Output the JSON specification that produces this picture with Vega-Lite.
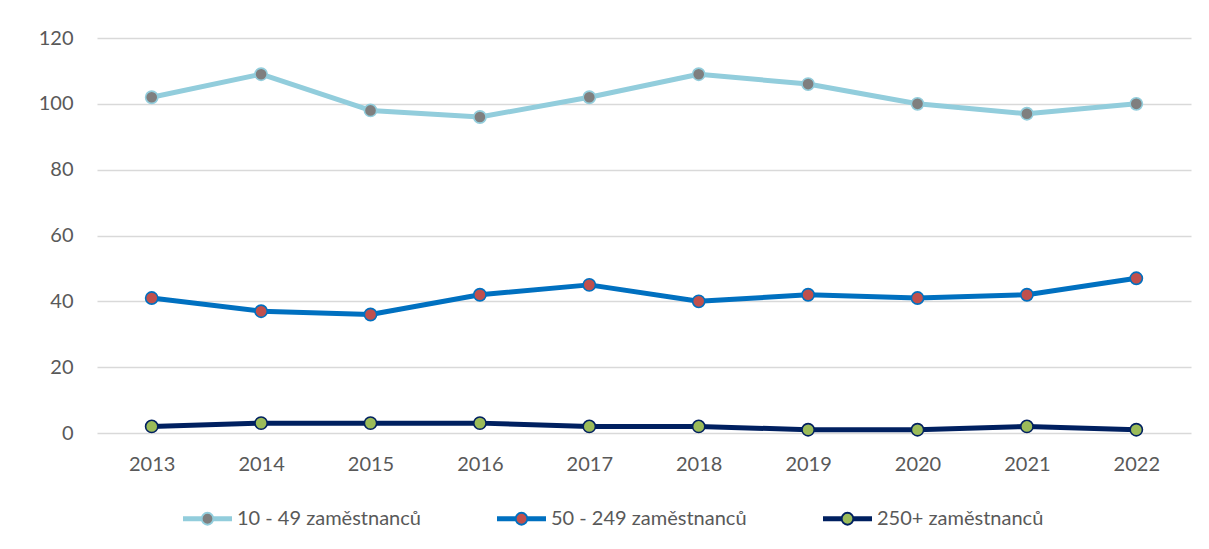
{
  "$schema": "https://vega.github.io/schema/vega-lite/v6.json",
  "width": 1094,
  "height": 395,
  "autosize": {"type": "none"},
  "padding": {"left": 97, "top": 38, "right": 18, "bottom": 116},
  "background": "white",
  "data": {
    "values": [
      {"year": "2013", "series": "10 - 49 zaměstnanců", "value": 102},
      {"year": "2014", "series": "10 - 49 zaměstnanců", "value": 109},
      {"year": "2015", "series": "10 - 49 zaměstnanců", "value": 98},
      {"year": "2016", "series": "10 - 49 zaměstnanců", "value": 96},
      {"year": "2017", "series": "10 - 49 zaměstnanců", "value": 102},
      {"year": "2018", "series": "10 - 49 zaměstnanců", "value": 109},
      {"year": "2019", "series": "10 - 49 zaměstnanců", "value": 106},
      {"year": "2020", "series": "10 - 49 zaměstnanců", "value": 100},
      {"year": "2021", "series": "10 - 49 zaměstnanců", "value": 97},
      {"year": "2022", "series": "10 - 49 zaměstnanců", "value": 100},
      {"year": "2013", "series": "50 - 249 zaměstnanců", "value": 41},
      {"year": "2014", "series": "50 - 249 zaměstnanců", "value": 37},
      {"year": "2015", "series": "50 - 249 zaměstnanců", "value": 36},
      {"year": "2016", "series": "50 - 249 zaměstnanců", "value": 42},
      {"year": "2017", "series": "50 - 249 zaměstnanců", "value": 45},
      {"year": "2018", "series": "50 - 249 zaměstnanců", "value": 40},
      {"year": "2019", "series": "50 - 249 zaměstnanců", "value": 42},
      {"year": "2020", "series": "50 - 249 zaměstnanců", "value": 41},
      {"year": "2021", "series": "50 - 249 zaměstnanců", "value": 42},
      {"year": "2022", "series": "50 - 249 zaměstnanců", "value": 47},
      {"year": "2013", "series": "250+ zaměstnanců", "value": 2},
      {"year": "2014", "series": "250+ zaměstnanců", "value": 3},
      {"year": "2015", "series": "250+ zaměstnanců", "value": 3},
      {"year": "2016", "series": "250+ zaměstnanců", "value": 3},
      {"year": "2017", "series": "250+ zaměstnanců", "value": 2},
      {"year": "2018", "series": "250+ zaměstnanců", "value": 2},
      {"year": "2019", "series": "250+ zaměstnanců", "value": 1},
      {"year": "2020", "series": "250+ zaměstnanců", "value": 1},
      {"year": "2021", "series": "250+ zaměstnanců", "value": 2},
      {"year": "2022", "series": "250+ zaměstnanců", "value": 1}
    ]
  },
  "encoding": {
    "x": {
      "field": "year", "type": "ordinal",
      "scale": {"type": "point", "padding": 0.5},
      "axis": {"title": null, "labelAngle": 0, "domain": false, "ticks": false, "grid": false, "labelPadding": 21}
    },
    "y": {
      "field": "value", "type": "quantitative",
      "scale": {"domain": [0, 120], "nice": false},
      "axis": {"title": null, "values": [0, 20, 40, 60, 80, 100, 120], "domain": false, "ticks": false, "labelPadding": 24, "gridColor": "#d9d9d9", "gridWidth": 1.3}
    }
  },
  "layer": [
    {
      "mark": {"type": "line", "strokeWidth": 5, "strokeCap": "round", "strokeJoin": "round"},
      "encoding": {
        "detail": {"field": "series"},
        "stroke": {
          "field": "series", "type": "nominal",
          "sort": ["10 - 49 zaměstnanců", "50 - 249 zaměstnanců", "250+ zaměstnanců"],
          "scale": {"domain": ["10 - 49 zaměstnanců", "50 - 249 zaměstnanců", "250+ zaměstnanců"], "range": ["#92CDDC", "#0070C0", "#002060"]},
          "legend": {"title": null, "orient": "none", "legendX": 85, "legendY": 455, "direction": "horizontal", "columnPadding": 72,
            "symbolType": "M-1,-0.06L-0.22,-0.06M-1,0L-0.22,0M-1,0.06L-0.22,0.06M0.22,-0.06L1,-0.06M0.22,0L1,0M0.22,0.06L1,0.06M0.24,0A0.24,0.24,0,1,1,-0.24,0A0.24,0.24,0,1,1,0.24,0Z",
            "symbolSize": 2401, "symbolStrokeWidth": 2, "labelOffset": 4}
        }
      }
    },
    {
      "mark": {"type": "point", "filled": true, "size": 150, "strokeWidth": 1.6, "opacity": 1},
      "encoding": {
        "stroke": {
          "field": "series", "type": "nominal",
          "sort": ["10 - 49 zaměstnanců", "50 - 249 zaměstnanců", "250+ zaměstnanců"],
          "legend": {"title": null, "orient": "none", "legendX": 85, "legendY": 455, "direction": "horizontal", "columnPadding": 72,
            "symbolType": "M-1,-0.06L-0.22,-0.06M-1,0L-0.22,0M-1,0.06L-0.22,0.06M0.22,-0.06L1,-0.06M0.22,0L1,0M0.22,0.06L1,0.06M0.24,0A0.24,0.24,0,1,1,-0.24,0A0.24,0.24,0,1,1,0.24,0Z",
            "symbolSize": 2401, "symbolStrokeWidth": 2, "labelOffset": 4}
        },
        "fill": {
          "field": "series", "type": "nominal",
          "sort": ["10 - 49 zaměstnanců", "50 - 249 zaměstnanců", "250+ zaměstnanců"],
          "scale": {"domain": ["10 - 49 zaměstnanců", "50 - 249 zaměstnanců", "250+ zaměstnanců"], "range": ["#7F7F7F", "#C0504D", "#9BBB59"]},
          "legend": {"title": null, "orient": "none", "legendX": 85, "legendY": 455, "direction": "horizontal", "columnPadding": 72,
            "symbolType": "M-1,-0.06L-0.22,-0.06M-1,0L-0.22,0M-1,0.06L-0.22,0.06M0.22,-0.06L1,-0.06M0.22,0L1,0M0.22,0.06L1,0.06M0.24,0A0.24,0.24,0,1,1,-0.24,0A0.24,0.24,0,1,1,0.24,0Z",
            "symbolSize": 2401, "symbolStrokeWidth": 2, "labelOffset": 4}
        }
      }
    }
  ],
  "config": {
    "view": {"stroke": null},
    "font": "Lato",
    "axis": {"labelFont": "Lato", "labelFontSize": 20, "labelColor": "#595959"},
    "legend": {"labelFont": "Lato", "labelFontSize": 20, "labelColor": "#595959", "symbolOpacity": 1, "labelLimit": 400}
  }
}
